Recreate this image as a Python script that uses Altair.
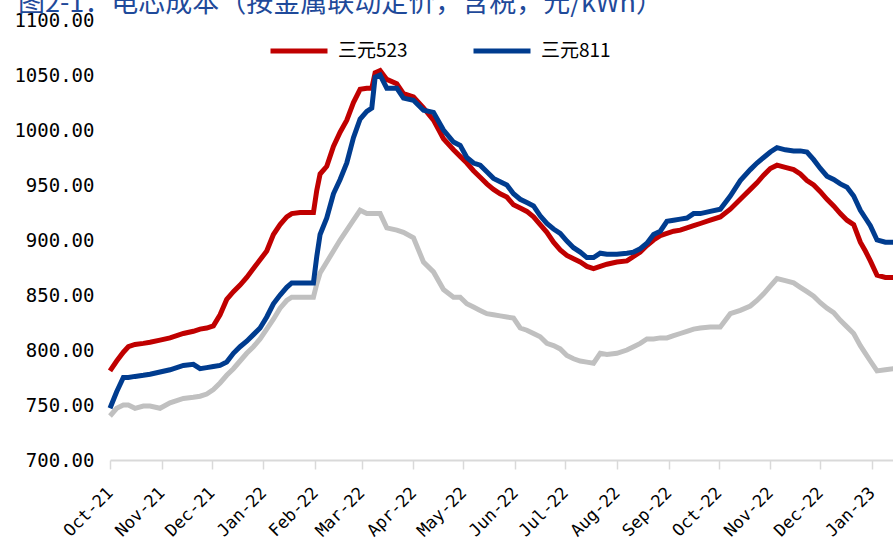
import altair as alt
import pandas as pd

title_text = "图2-1：电芯成本（按金属联动定价，含税，元/kWh）"

dates = [
    "2021-10-01", "2021-10-05", "2021-10-09", "2021-10-12", "2021-10-16", "2021-10-21", "2021-10-25", "2021-10-31",
    "2021-11-06", "2021-11-14", "2021-11-20", "2021-11-24", "2021-11-28", "2021-12-02", "2021-12-06", "2021-12-10",
    "2021-12-14", "2021-12-18", "2021-12-22", "2021-12-26", "2021-12-30", "2022-01-03", "2022-01-07", "2022-01-11",
    "2022-01-15", "2022-01-18", "2022-01-23", "2022-01-31", "2022-02-02", "2022-02-04", "2022-02-08", "2022-02-12",
    "2022-02-16", "2022-02-20", "2022-02-24", "2022-02-28", "2022-03-04", "2022-03-07", "2022-03-09", "2022-03-12",
    "2022-03-16", "2022-03-22", "2022-03-26", "2022-04-01", "2022-04-07", "2022-04-13", "2022-04-19", "2022-04-25",
    "2022-04-29", "2022-05-03", "2022-05-07", "2022-05-11", "2022-05-15", "2022-05-19", "2022-05-23", "2022-05-27",
    "2022-05-31", "2022-06-04", "2022-06-08", "2022-06-12", "2022-06-16", "2022-06-20", "2022-06-24", "2022-06-28",
    "2022-07-02", "2022-07-06", "2022-07-10", "2022-07-14", "2022-07-18", "2022-07-22", "2022-07-26", "2022-08-01",
    "2022-08-07", "2022-08-11", "2022-08-15", "2022-08-19", "2022-08-23", "2022-08-27", "2022-08-31", "2022-09-04",
    "2022-09-08", "2022-09-12", "2022-09-16", "2022-09-20", "2022-09-26", "2022-10-02", "2022-10-08", "2022-10-14",
    "2022-10-20", "2022-10-24", "2022-10-28", "2022-11-01", "2022-11-05", "2022-11-10", "2022-11-15", "2022-11-19",
    "2022-11-23", "2022-11-27", "2022-12-01", "2022-12-05", "2022-12-09", "2022-12-13", "2022-12-17", "2022-12-21",
    "2022-12-25", "2022-12-28", "2022-12-31", "2023-01-04", "2023-01-09", "2023-01-14",
]

ncm523 = [
    781, 790, 798, 803, 805, 806, 807, 809,
    811, 815, 817, 819, 820, 822, 832, 846,
    853, 859, 866, 874, 882, 890, 905, 914,
    921, 924, 925, 925, 945, 960, 967, 985,
    998, 1009, 1025, 1037, 1038, 1038, 1052, 1054,
    1046, 1042, 1033, 1030, 1020, 1009, 992, 982,
    976, 970, 963, 957, 951, 946, 942, 939,
    932, 929, 926, 921, 914, 907, 898, 891,
    886, 883, 880, 876, 874, 876, 878, 880,
    881, 885, 889, 895, 900, 904, 906, 908,
    909, 911, 913, 915, 918, 921, 928, 937,
    946, 952, 959, 965, 968, 966, 964, 960,
    954, 950, 944, 937, 931, 924, 918, 914,
    898, 890, 881, 868, 866, 866,
]

ncm811 = [
    747, 762, 775, 775, 776, 777, 778, 780,
    782, 786, 787, 783, 784, 785, 786, 789,
    797, 803, 808, 814, 820, 830, 842, 850,
    857, 861, 861, 861, 885, 905, 920, 942,
    955, 970, 993, 1010, 1017, 1020, 1048, 1050,
    1038, 1038, 1029, 1027, 1018, 1016, 1000, 989,
    986, 975, 970, 968, 962, 956, 953, 950,
    942, 937, 934, 931, 922, 915, 910, 906,
    899, 893, 889, 884, 884, 888, 887, 887,
    888, 889, 892, 897, 905, 908, 917, 918,
    919, 920, 924, 924, 926, 928, 940, 954,
    964, 970, 975, 980, 984, 982, 981, 981,
    980, 973, 965, 958, 955, 951, 948, 940,
    927, 920, 913, 900, 898, 898,
]

lfp = [
    740, 747, 750, 750, 747, 749, 749, 747,
    752, 756, 757, 758, 760, 764, 770, 777,
    783, 790, 797, 803, 810, 819, 828, 838,
    845, 848, 848, 848, 860, 870, 880, 890,
    900, 909, 918, 927, 924, 924, 924, 924,
    911, 909, 907, 902, 880, 871, 855, 848,
    848, 842, 839, 836, 833, 832, 831, 830,
    829, 820, 818, 815, 812, 806, 804, 801,
    795, 792, 790, 789, 788, 797, 796, 797,
    800, 803, 806, 810, 810, 811, 811, 813,
    815, 817, 819, 820, 821, 821, 833, 836,
    840, 845, 851, 858, 865, 863, 861, 857,
    853, 849, 843, 838, 834, 827, 821, 815,
    804, 797, 790, 781, 782, 783,
]

series_names = ["三元523", "三元811"]
series_colors = ["#C00000", "#003C8F"]
gray_color = "#C0C0C0"
y_ticks = [700, 750, 800, 850, 900, 950, 1000, 1050, 1100]
month_ticks = [(2021, m) for m in (10, 11, 12)] + [(2022, m) for m in range(1, 13)] + [(2023, 1)]

df = pd.DataFrame({"date": dates, "三元523": ncm523, "三元811": ncm811, "lfp": lfp})
long = df.melt(id_vars="date", value_vars=series_names, var_name="series", value_name="value")

x_scale = alt.Scale(
    type="utc",
    domain=[alt.DateTime(year=2021, month=10, date=1, utc=True),
            alt.DateTime(year=2023, month=1, date=13, hours=14, utc=True)],
)
x_axis = alt.Axis(
    values=[alt.DateTime(year=y, month=m, date=1, utc=True) for y, m in month_ticks],
    format="%b-%y",
    labelAngle=-45,
    labelAlign="right",
    labelBaseline="middle",
    labelFont="DejaVu Sans Mono",
    labelFontSize=17,
    labelColor="#000000",
    labelPadding=21,
    labelOverlap=False,
    labelFlush=False,
    tickSize=9,
    tickColor="#D9D9D9",
    tickWidth=1.5,
    domainColor="#D9D9D9",
    domainWidth=2,
    grid=False,
    title=None,
)
y_scale = alt.Scale(domain=[700, 1100], nice=False, zero=False)
y_axis = alt.Axis(
    values=y_ticks,
    format=".2f",
    grid=False,
    domain=False,
    ticks=False,
    labelFont="DejaVu Sans Mono",
    labelFontSize=19,
    labelColor="#000000",
    labelPadding=16,
    title=None,
)

gray_line = alt.Chart(df).mark_line(color=gray_color, strokeWidth=5).encode(
    x=alt.X("date:T", scale=x_scale, axis=x_axis),
    y=alt.Y("lfp:Q", scale=y_scale, axis=y_axis),
)

main_lines = alt.Chart(long).mark_line(strokeWidth=5).encode(
    x=alt.X("date:T", scale=x_scale, axis=x_axis),
    y=alt.Y("value:Q", scale=y_scale, axis=y_axis),
    color=alt.Color(
        "series:N",
        scale=alt.Scale(domain=series_names, range=series_colors),
        sort=series_names,
        legend=alt.Legend(
            orient="none",
            legendX=158,
            legendY=0,
            direction="horizontal",
            columns=2,
            symbolType="stroke",
            symbolSize=3249,
            symbolStrokeWidth=5,
            labelFont="Noto Sans CJK SC",
            labelFontSize=19,
            labelColor="#000000",
            labelOffset=8,
            columnPadding=55,
            title=None,
        ),
    ),
)

title_mark = alt.Chart(pd.DataFrame({"t": [title_text]})).mark_text(
    align="left", baseline="alphabetic", fontSize=27, font="Noto Sans CJK SC", color="#1F4A9A"
).encode(x=alt.value(-92), y=alt.value(-8), text="t:N")

chart = alt.layer(gray_line, main_lines, title_mark).properties(
    width=783,
    height=440,
    padding={"left": 110, "top": 20, "right": 0, "bottom": 84},
    autosize=alt.AutoSizeParams(type="none"),
    background="#FFFFFF",
).configure_view(strokeWidth=0)

chart.save("out.html", embed_options={"renderer": "svg", "actions": False})
